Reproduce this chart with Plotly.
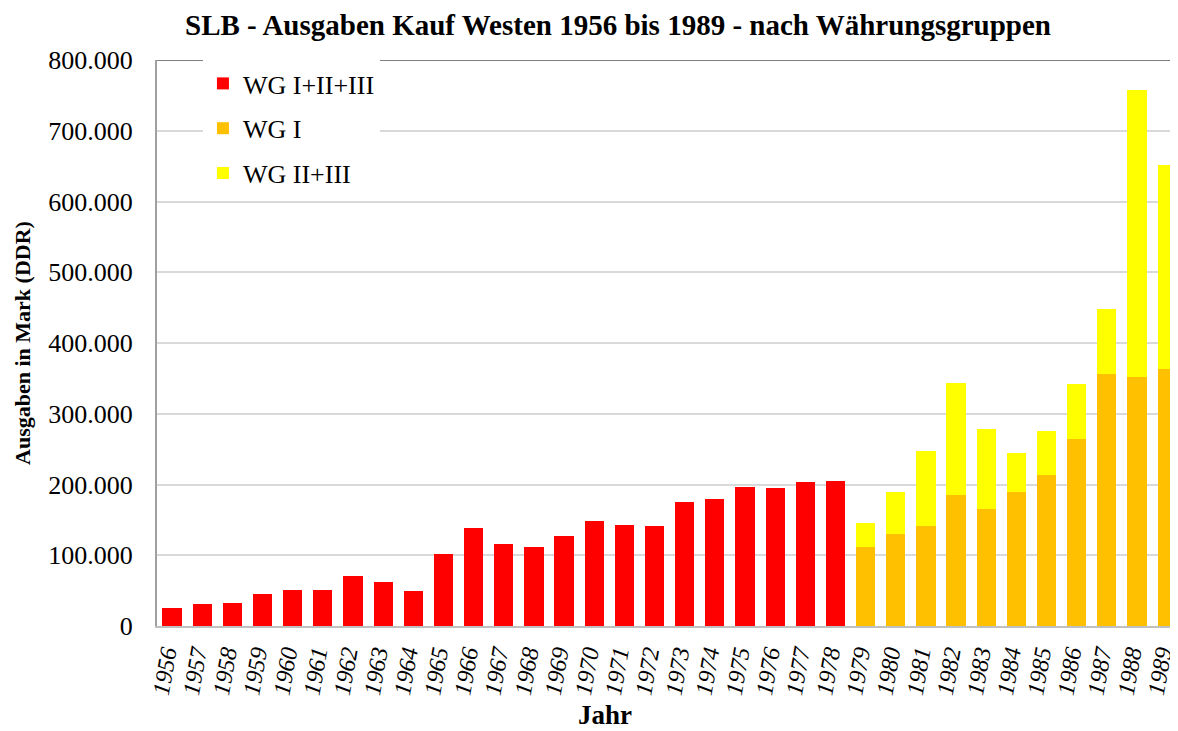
import plotly.graph_objects as go

years = [str(y) for y in range(1956, 1990)]

# WG I+II+III (1956-1978)
wg_all = [26000, 31000, 32000, 45000, 51000, 51000, 71000, 62000, 50000, 102000,
          139000, 116000, 111000, 127000, 148000, 143000, 141000, 175000, 179000,
          196000, 195000, 204000, 205000] + [None] * 11
# WG I (1979-1989)
wg_1 = [None] * 23 + [111000, 130000, 141000, 185000, 166000, 189000, 213000,
                      265000, 356000, 352000, 363000]
# WG II+III (1979-1989)
wg_23 = [None] * 23 + [35000, 60000, 106000, 159000, 112000, 56000, 63000,
                       77000, 92000, 405000, 288000]

serif = "Liberation Serif, Times New Roman, serif"

fig = go.Figure()
fig.add_trace(go.Bar(x=years, y=wg_all, name="WG I+II+III", marker_color="#FF0000",
                     marker_line_width=0, legendgroup="a"))
fig.add_trace(go.Bar(x=years, y=wg_1, name="WG I", marker_color="#FFC000",
                     marker_line_width=0, legendgroup="b"))
fig.add_trace(go.Bar(x=years, y=wg_23, name="WG II+III", marker_color="#FFFF00",
                     marker_line_width=0, legendgroup="c"))

W, H = 1170, 723
fig.update_layout(
    width=W, height=H,
    barmode="stack", bargap=0.36,
    separators=",.",
    plot_bgcolor="white", paper_bgcolor="white",
    margin=dict(l=149, r=0, t=52, b=105, autoexpand=False),
    font=dict(family=serif, color="black", size=20),
    title=dict(text="<b>SLB - Ausgaben Kauf Westen 1956 bis 1989 - nach Währungsgruppen</b>",
               x=610 / W, xanchor="center", y=1 - 17 / H, yanchor="middle",
               font=dict(family=serif, size=29, color="black")),
    legend=dict(x=0.045, y=1.0, xanchor="left", yanchor="top",
                bgcolor="white", font=dict(family=serif, size=26),
                traceorder="grouped", tracegroupgap=8, itemwidth=30),
    xaxis=dict(type="category", range=[-0.5, 33.36],
               tickangle=-80, tickfont=dict(family=serif, size=24, style="italic"),
               ticklabelstandoff=2, ticklabelshift=-7,
               showline=True, linecolor="#C0C0C0", linewidth=2, ticks=""),
    yaxis=dict(range=[0, 800000], dtick=100000, tickformat=",.0f",
               showgrid=True, gridcolor="#D9D9D9", gridwidth=2,
               showline=True, linecolor="#A0A0A0", linewidth=2, ticks="",
               zeroline=False, ticklabelstandoff=17,
               tickfont=dict(family=serif, size=26),
               title=dict(text="<b>Ausgaben in Mark (DDR)</b>", font=dict(family=serif, size=22),
                          standoff=12)),
)

fig.add_annotation(text="<b>Jahr</b>", xref="paper", yref="paper",
                   x=(597 - 149) / 1021, y=(618 - 707) / 566,
                   xanchor="center", yanchor="middle", showarrow=False,
                   font=dict(family=serif, size=27, color="black"))

fig.add_shape(type="line", xref="paper", yref="y", x0=0, x1=1, y0=800000, y1=800000,
              line=dict(color="#808080", width=2), layer="above")

fig.write_html("out.html")
